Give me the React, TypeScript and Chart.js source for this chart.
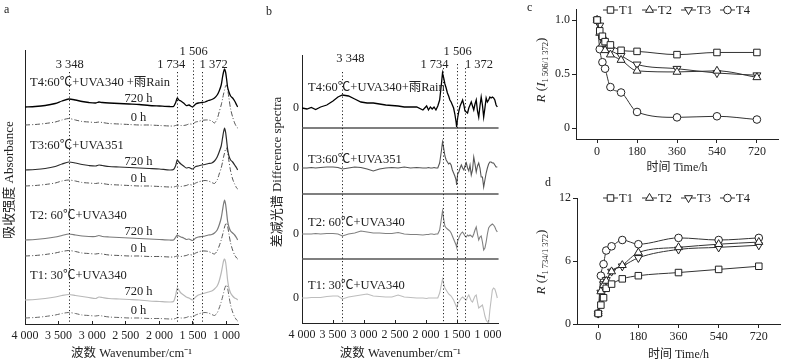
import React, { useEffect, useRef } from 'react';
import { Chart, registerables } from 'chart.js';

Chart.register(...registerables);

const FONT = "'Liberation Serif', 'Noto Sans CJK SC', serif";
Chart.defaults.font.family = FONT;
Chart.defaults.color = '#222';

/* ================= DATA ================= */

/* Panel a: absorbance spectra (relative absorbance, arbitrary units) */
const waveA = [4000, 3850, 3700, 3550, 3450, 3348, 3250, 3150, 3050, 2950, 2900, 2850, 2750, 2600, 2450, 2300, 2150, 2000, 1850, 1790, 1760, 1734, 1710, 1680, 1640, 1600, 1560, 1506, 1460, 1420, 1372, 1320, 1270, 1220, 1180, 1140, 1110, 1080, 1060, 1045, 1030, 1015, 1000, 985, 965, 940, 910, 880, 850, 835];
const aT4_720h = [0, 0.5, 1.5, 3.5, 6, 8, 7, 5.5, 4.5, 4, 5, 4.5, 4, 3.5, 3, 2.5, 1.5, 1, 0.5, 0.5, 4, 9, 7, 6, 4, 1.5, 2, 0, 3, 4, 4.5, 5, 6.5, 7.5, 9, 12, 16, 22, 30, 35, 38, 35, 28, 20, 15, 11, 9, 6, 2, 0];
const aT4_0h = [0, 0.5, 1.5, 3, 5, 6.5, 5, 3.5, 3, 2.5, 3, 2.5, 1.5, 1, 0.5, 0, 0, -0.5, -1, -1, -0.5, 0, 0, -0.5, -0.5, 0, 1, 1, 3, 3.5, 4.5, 5, 5, 4, 2, 6, 13, 20, 26, 31, 35, 39, 40, 36, 27, 16, 8, 2, -2, -3];
const aT3_720h = [0, 0.5, 1.5, 3.5, 6, 8, 7, 5.5, 4.5, 4, 5, 4.5, 3.5, 3, 2.5, 2, 1.5, 1, 0, 0.5, 4, 10, 8, 6, 4, 2, 2.5, 1, 3.5, 4, 5, 5.5, 6.5, 7, 9, 13, 18, 24, 32, 38, 42, 38, 30, 21, 14, 10, 8, 5, 2, 0];
const aT3_0h = [0, 0.5, 1.5, 3, 5, 6, 5, 3.5, 3, 2.5, 3, 2.5, 1.5, 1, 0.5, 0, 0, -0.5, -1, -1, -0.5, 0, 0, -0.5, 0, 0.5, 1.5, 1, 3, 4, 5, 5.5, 5, 3.5, 2.5, 6, 12, 18, 24, 29, 33, 37, 38, 34, 25, 15, 7, 2, -2, -3];
const aT2_720h = [0, 0.5, 1.5, 3, 4.5, 6, 5, 4, 3.5, 3.5, 4.5, 3.5, 3, 2.5, 2, 1.5, 1, 0.5, 0, 0, 2.5, 5, 4, 3, 2, 0.5, 1, -0.5, 2, 3, 3.5, 4, 5, 5.5, 7, 10, 15, 22, 30, 36, 40, 36, 28, 19, 13, 9, 7, 5, 2, 0];
const aT2_0h = [0, 0.5, 1.5, 3, 4.5, 5.5, 4.5, 3, 2.5, 2, 2.5, 2, 1, 0.5, 0, 0, -0.5, -0.5, -1, -1, -0.5, 0, 0, -0.5, 0, 0.5, 1.5, 1, 3, 4, 5, 5, 4.5, 3, 2, 5, 10, 16, 21, 25, 29, 32, 33, 30, 22, 13, 6, 1, -2, -3];
const aT1_720h = [0, 0.5, 1.5, 3, 4.5, 5.5, 4.5, 3.5, 2.5, 1.5, 3, 2.5, 1.5, 1, 0.5, 0, -1, -1.5, -2, -1.5, 4, 12, 10, 7, 5, 3, 2, 0, 3, 5, 6, 7, 8, 9, 11, 14, 19, 27, 34, 39, 41, 38, 30, 20, 12, 7, 4, 2, 1, 0];
const aT1_0h = [0, 0.5, 1.5, 3, 4.5, 5.5, 4.5, 3, 2.5, 2, 2.5, 2, 1, 0.5, 0, 0, -0.5, -0.5, -1, -1, -0.5, 0.5, 0.5, 0, 0, 0.5, 1.5, 1, 3, 4, 5, 5.5, 5, 3.5, 2.5, 5, 10, 16, 21, 25, 29, 32, 33, 30, 22, 13, 6, 1, -2, -3];

/* Panel b: difference spectra */
const waveB = [4000, 3920, 3850, 3780, 3700, 3600, 3500, 3420, 3348, 3250, 3150, 3050, 2950, 2850, 2750, 2650, 2550, 2450, 2350, 2250, 2150, 2050, 1990, 1960, 1930, 1900, 1870, 1840, 1810, 1780, 1750, 1734, 1715, 1695, 1675, 1655, 1635, 1615, 1595, 1575, 1555, 1535, 1515, 1506, 1490, 1470, 1450, 1430, 1410, 1390, 1372, 1350, 1330, 1310, 1290, 1270, 1250, 1230, 1210, 1190, 1170, 1150, 1130, 1110, 1090, 1070, 1050, 1030, 1010, 990, 970, 950, 930, 910, 890, 870, 850];
const bT4 = [0, -1, 0.5, -1.5, 1, 3, 7, 11, 13, 12, 9, 6, 5, 5, 4, 3, 2.5, 2, 1, 1, 1, -2, 2, -2, 1, -1, 1, -2, 2, 8, 25, 35, 30, 24, 20, 15, 12, 8, 6, 3, 0, -6, -14, -19, -10, -3, 2, 5, 8, 3, -3, -4, -5, 0, 3, 6, 2, -2, 4, 8, -3, -9, 2, 11, 3, -9, 0, 10, 6, 8, 11, 10, 11, 10, 8, 3, 1];
const bT3 = [0, 0, 0.5, 0, 0.5, 1, 1, 0.5, -1, 0, 1, 0.5, -1, -3, -1, 0, 0.5, 0, 1, 0, 0.5, 0, 0, 0.5, 0, 0, 0.5, 0, 0, 5, 18, 26, 20, 12, 8, 6, 4, 5, 3, -2, -5, -8, -12, -17, -6, -4, 0, 3, 0, -2, 2, 5, 0, -3, 3, -7, -2, 11, 4, -4, 2, 5, 0, -9, -9, -19, -12, -5, 0, 4, 6, 6, 5, 5, 3, 1, 1];
const bT2 = [0, 0, 0, 0.5, 0, 0.5, 0.5, 0, -2, 0, 1, 3, 2, 1, 1, 0.5, 0.5, 1.5, 0, -0.5, -0.5, -1, -0.5, -0.5, 0, 0, -0.5, 0, 0, 4, 16, 23, 15, 8, 6, 5, 4, 3, 1, -2, -5, -8, -11, -13, -7, -4, -1, 1, 2, 0, -2, -3, -1, -2, -1, -2, -3, 0, 4, 7, 0, -6, -3, -2, -8, -16, -14, -8, 0, 6, 8, 9, 10, 9, 7, 4, 2];
const bT1 = [0, 0, 0.5, 0.5, 0.5, 1.5, 2, 2, -1, 1, 2, 3, 4, 2, 1.5, 1, 1, 3, 1, 0.5, 0, 0, -0.5, 0, 0, 0, 0, 0, 0, 5, 14, 19, 14, 10, 8, 6, 4, 3, 2, 0, -2, -5, -8, -9, -6, -4, -2, 0, 1, 0, -1, -2, 1, 3, 0, -3, -4, -1, 2, 3, -4, -10, -9, -8, -7, -12, -18, -22, -24, -25, -12, -2, 8, 10, 9, 5, 0];

const markWaves = [3348, 1734, 1506, 1372];
const markLabels = ['3 348', '1 734', '1 506', '1 372'];
const waveTicks = [4000, 3500, 3000, 2500, 2000, 1500, 1000];
const conditionsA = ['T4:60℃+UVA340 +雨Rain', 'T3:60℃+UVA351', 'T2: 60℃+UVA340', 'T1: 30℃+UVA340'];
const conditionsB = ['T4:60℃+UVA340+雨Rain', 'T3:60℃+UVA351', 'T2: 60℃+UVA340', 'T1: 30℃+UVA340'];
const timeLabels = ['720 h', '0 h'];

/* Panels c, d: band ratios vs. time */
const seriesNames = ['T1', 'T2', 'T3', 'T4'];
const timesH = [0, 12, 24, 36, 60, 108, 180, 360, 540, 720];
const cT1 = [1.00, 0.90, 0.85, 0.80, 0.77, 0.72, 0.71, 0.68, 0.70, 0.70];
const cT2 = [1.00, 0.88, 0.78, 0.72, 0.68, 0.63, 0.53, 0.52, 0.53, 0.47];
const cT3 = [1.00, 0.95, 0.82, 0.76, 0.72, 0.67, 0.59, 0.55, 0.51, 0.49];
const cT4 = [1.00, 0.73, 0.61, 0.55, 0.38, 0.33, 0.15, 0.10, 0.11, 0.08];
const dT1 = [1.0, 1.8, 2.5, 3.4, 3.8, 4.3, 4.6, 4.9, 5.2, 5.5];
const dT2 = [1.0, 3.1, 3.7, 4.1, 5.0, 5.6, 6.8, 7.3, 7.6, 7.8];
const dT3 = [1.0, 3.0, 3.8, 4.2, 5.0, 5.5, 6.3, 7.1, 7.3, 7.5];
const dT4 = [1.0, 4.6, 5.7, 7.0, 7.4, 8.0, 7.6, 8.2, 8.0, 8.2];
const timeTicks = [0, 180, 360, 540, 720];
const cYTicks = [0, 0.5, 1.0];
const cYLabels = ['0', '0.5', '1.0'];
const dYTicks = [0, 6, 12];
const dYLabels = ['0', '6', '12'];

/* ================= LAYOUT / STYLE ================= */

const A = {
  // [720 h offset, 0 h offset] for T4, T3, T2, T1 (stacking offsets in y units)
  offsets: [[217, 199], [154, 138], [84, 68], [24, 6]],
  markTop: [72, 72, 60, 72],
  markDx: [1, -6, 1, 12],
  markY: [65, 65, 52, 65],
};
const B = {
  zero: [215, 155, 89, 25],
  seps: [195, 129, 64],
  labelDy: [20, 8, 11, 12],
  markTop: [72, 68, 64, 68],
  markDx: [8, -8, 1, 14],
  markY: [59, 65, 52, 65],
};
const aStyles = [
  ['#000', '#555'], ['#2a2a2a', '#555'], ['#7a7a7a', '#555'], ['#b8b8b8', '#666'],
];
const bColors = ['#000', '#555', '#808080', '#bdbdbd'];
const markers = [
  { style: 'rect', rot: 0, r: 4.6 },
  { style: 'triangle', rot: 0, r: 4.6 },
  { style: 'triangle', rot: 180, r: 4.6 },
  { style: 'circle', rot: 0, r: 3.8 },
];
const DASHDOT = [5, 2, 1, 2];

/* ================= HELPERS ================= */

function fmtWave(v: number) {
  const s = String(Math.round(v));
  return s.length > 3 ? s.slice(0, -3) + ' ' + s.slice(-3) : s;
}

function txt(ctx: any, text: string, x: number, y: number, size: number, align: any = 'left', style = '') {
  ctx.font = `${style} ${size}px ${FONT}`.trim();
  ctx.fillStyle = '#222';
  ctx.textAlign = align;
  ctx.textBaseline = 'middle';
  ctx.fillText(text, x, y);
}

function rotText(ctx: any, text: string, x: number, y: number, size: number) {
  ctx.save();
  ctx.translate(x, y);
  ctx.rotate(-Math.PI / 2);
  txt(ctx, text, 0, 0, size, 'center');
  ctx.restore();
}

function ratioTitle(ctx: any, sub: string, x: number, y: number) {
  const parts = [
    { t: 'R', f: `italic 13px ${FONT}`, dy: 0 },
    { t: ' (', f: `13px ${FONT}`, dy: 0 },
    { t: 'I', f: `italic 13px ${FONT}`, dy: 0 },
    { t: sub, f: `8.5px ${FONT}`, dy: 3.5 },
    { t: ')', f: `13px ${FONT}`, dy: 0 },
  ];
  ctx.save();
  ctx.translate(x, y);
  ctx.rotate(-Math.PI / 2);
  ctx.fillStyle = '#222';
  ctx.textBaseline = 'middle';
  ctx.textAlign = 'left';
  let total = 0;
  parts.forEach(p => { ctx.font = p.f; total += ctx.measureText(p.t).width; });
  let cx = -total / 2;
  parts.forEach(p => { ctx.font = p.f; ctx.fillText(p.t, cx, p.dy); cx += ctx.measureText(p.t).width; });
  ctx.restore();
}

function drawMarker(ctx: any, m: any, x: number, y: number) {
  const r = m.r;
  ctx.beginPath();
  if (m.style === 'rect') {
    const s = r * Math.SQRT1_2;
    ctx.rect(x - s, y - s, 2 * s, 2 * s);
  } else if (m.style === 'circle') {
    ctx.arc(x, y, r, 0, Math.PI * 2);
  } else {
    let rad = (m.rot * Math.PI) / 180;
    for (let k = 0; k < 3; k++) {
      const px = x + Math.sin(rad) * r;
      const py = y - Math.cos(rad) * r;
      if (k === 0) ctx.moveTo(px, py); else ctx.lineTo(px, py);
      rad += (2 * Math.PI) / 3;
    }
    ctx.closePath();
  }
  ctx.fillStyle = '#fff';
  ctx.fill();
  ctx.strokeStyle = '#222';
  ctx.lineWidth = 1;
  ctx.stroke();
}

function waveAxis(min: number, h: number) {
  return {
    type: 'linear',
    reverse: true,
    min,
    max: 4000,
    afterBuildTicks: (s: any) => { s.ticks = waveTicks.map(v => ({ value: v })); },
    afterFit: (s: any) => { s.height = h; },
    ticks: { callback: (v: any) => fmtWave(v), font: { size: 12 }, color: '#222', padding: 8, maxRotation: 0, autoSkip: false },
    grid: { display: true, drawOnChartArea: false, drawTicks: true, tickLength: -3, color: '#222' },
    border: { display: true, color: '#222' },
    title: { display: true, text: '波数 Wavenumber/cm⁻¹', font: { size: 12.5 }, color: '#222', padding: { top: 0, bottom: 1 } },
  };
}

function dottedMarks(ctx: any, chart: any, tops: number[], dx: number[], ys: number[]) {
  const x = chart.scales.x;
  ctx.save();
  ctx.setLineDash([1.2, 2.3]);
  ctx.strokeStyle = '#222';
  ctx.lineWidth = 1;
  markWaves.forEach((w, i) => {
    const px = Math.round(x.getPixelForValue(w)) + 0.5;
    ctx.beginPath();
    ctx.moveTo(px, tops[i]);
    ctx.lineTo(px, chart.chartArea.bottom);
    ctx.stroke();
  });
  ctx.setLineDash([]);
  markWaves.forEach((w, i) => {
    const px = x.getPixelForValue(w);
    txt(ctx, markLabels[i], px + dx[i], ys[i], 12.5, 'center');
  });
  ctx.restore();
}

/* ================= PANEL CONFIGS ================= */

const panelAPlugin = {
  id: 'panelA',
  afterDraw(chart: any) {
    const { ctx, chartArea, scales } = chart;
    const x = scales.x, y = scales.y;
    dottedMarks(ctx, chart, A.markTop, A.markDx, A.markY);
    ctx.save();
    conditionsA.forEach((label, k) => {
      const [o720, o0] = A.offsets[k];
      txt(ctx, label, chartArea.left + 5, y.getPixelForValue(o720 + 24), 12.5);
      txt(ctx, timeLabels[0], x.getPixelForValue(2310), y.getPixelForValue(o720 + 8.5), 12.5, 'center');
      txt(ctx, timeLabels[1], x.getPixelForValue(2310), y.getPixelForValue(o0 + 7.5), 12.5, 'center');
    });
    txt(ctx, 'a', 4, 10, 12);
    rotText(ctx, '吸收强度 Absorbance', 10, 180, 13);
    ctx.restore();
  },
};

function configA() {
  const series = [aT4_720h, aT4_0h, aT3_720h, aT3_0h, aT2_720h, aT2_0h, aT1_720h, aT1_0h];
  return {
    type: 'line',
    data: {
      datasets: series.map((vals, i) => {
        const k = Math.floor(i / 2), is0 = i % 2 === 1;
        const off = A.offsets[k][is0 ? 1 : 0];
        return {
          data: waveA.map((w, j) => ({ x: w, y: vals[j] + off })),
          borderColor: aStyles[k][is0 ? 1 : 0],
          borderWidth: is0 ? 1 : (k === 0 ? 1.3 : 1.2),
          borderDash: is0 ? DASHDOT : [],
          pointRadius: 0,
          tension: 0.25,
          fill: false,
        };
      }),
    },
    options: {
      responsive: false, animation: false, events: [],
      layout: { padding: { left: 0, top: 50, right: 12, bottom: 0 } },
      plugins: { legend: { display: false }, tooltip: { enabled: false } },
      scales: {
        x: waveAxis(830, 38),
        y: {
          type: 'linear', min: 0, max: 274,
          afterFit: (s: any) => { s.width = 25; },
          ticks: { display: false },
          grid: { display: false, drawTicks: false },
          border: { display: true, color: '#222' },
        },
      },
    },
    plugins: [panelAPlugin],
  };
}

const panelBPlugin = {
  id: 'panelB',
  afterDraw(chart: any) {
    const { ctx, chartArea, scales } = chart;
    const y = scales.y;
    ctx.save();
    ctx.strokeStyle = '#555';
    ctx.lineWidth = 1.6;
    B.seps.forEach(v => {
      const py = Math.round(y.getPixelForValue(v));
      ctx.beginPath();
      ctx.moveTo(chartArea.left, py);
      ctx.lineTo(chartArea.right, py);
      ctx.stroke();
    });
    ctx.restore();
    dottedMarks(ctx, chart, B.markTop, B.markDx, B.markY);
    ctx.save();
    conditionsB.forEach((label, k) => {
      txt(ctx, label, chartArea.left + 6, y.getPixelForValue(B.zero[k] + B.labelDy[k]), 12.5);
    });
    txt(ctx, 'b', 16, 12, 12);
    rotText(ctx, '差减光谱 Difference spectra', 28, 172, 13);
    ctx.restore();
  },
};

function configB() {
  const series = [bT4, bT3, bT2, bT1];
  return {
    type: 'line',
    data: {
      datasets: series.map((vals, k) => ({
        data: waveB.map((w, j) => ({ x: w, y: vals[j] + B.zero[k] })),
        borderColor: bColors[k],
        borderWidth: k === 0 ? 1.3 : 1.1,
        pointRadius: 0,
        tension: 0,
        fill: false,
      })),
    },
    options: {
      responsive: false, animation: false, events: [],
      layout: { padding: { left: 20, top: 55, right: 9, bottom: 0 } },
      plugins: { legend: { display: false }, tooltip: { enabled: false } },
      scales: {
        x: waveAxis(830, 39),
        y: {
          type: 'linear', min: 0, max: 268,
          afterBuildTicks: (s: any) => { s.ticks = B.zero.map(v => ({ value: v })); },
          afterFit: (s: any) => { s.width = 32; },
          ticks: { callback: () => '0', font: { size: 12 }, color: '#222', padding: 3 },
          grid: { display: false, drawTicks: false },
          border: { display: true, color: '#222' },
        },
      },
    },
    plugins: [panelBPlugin],
  };
}

function ratioPlugin(id: string, letter: string, letterX: number, legendY: number, sub: string, titleY: number) {
  return {
    id,
    afterDraw(chart: any) {
      const ctx = chart.ctx;
      ctx.save();
      seriesNames.forEach((name, i) => {
        const x0 = 93 + i * 39;
        ctx.strokeStyle = '#333';
        ctx.lineWidth = 1;
        ctx.beginPath();
        ctx.moveTo(x0, legendY);
        ctx.lineTo(x0 + 15, legendY);
        ctx.stroke();
        drawMarker(ctx, markers[i], x0 + 7.5, legendY);
        txt(ctx, name, x0 + 16, legendY + 0.5, 12.5);
      });
      txt(ctx, letter, letterX, 8, 12);
      ratioTitle(ctx, sub, 32, titleY);
      ctx.restore();
    },
  };
}

function ratioConfig(vals: number[][], yMin: number, yMax: number, yTicks: number[], yLabels: string[], pad: any, yW: number, xH: number, plugin: any) {
  return {
    type: 'line',
    data: {
      datasets: vals.map((v, i) => ({
        label: seriesNames[i],
        data: timesH.map((t, j) => ({ x: t, y: v[j] })),
        borderColor: '#333',
        borderWidth: 1,
        cubicInterpolationMode: 'monotone',
        pointStyle: markers[i].style,
        pointRotation: markers[i].rot,
        pointRadius: markers[i].r,
        pointBackgroundColor: '#fff',
        pointBorderColor: '#222',
        pointBorderWidth: 1,
        fill: false,
        clip: false,
      })),
    },
    options: {
      responsive: false, animation: false, events: [],
      layout: { padding: pad },
      plugins: { legend: { display: false }, tooltip: { enabled: false } },
      scales: {
        x: {
          type: 'linear', min: -95, max: 815,
          afterBuildTicks: (s: any) => { s.ticks = timeTicks.map(v => ({ value: v })); },
          afterFit: (s: any) => { s.height = xH; },
          ticks: { font: { size: 12 }, color: '#222', padding: 2, maxRotation: 0, autoSkip: false, callback: (v: any) => String(v) },
          grid: { drawOnChartArea: false, tickLength: 4, color: '#222' },
          border: { color: '#222' },
          title: { display: true, text: '时间 Time/h', font: { size: 12 }, color: '#222', padding: { top: 0, bottom: 0 } },
        },
        y: {
          type: 'linear', min: yMin, max: yMax,
          afterBuildTicks: (s: any) => { s.ticks = yTicks.map(v => ({ value: v })); },
          afterFit: (s: any) => { s.width = yW; },
          ticks: { font: { size: 12 }, color: '#222', padding: 2, callback: (_v: any, i: number) => yLabels[i] },
          grid: { drawOnChartArea: false, tickLength: 4, color: '#222' },
          border: { color: '#222' },
        },
      },
    },
    plugins: [plugin],
  };
}

function configC() {
  return ratioConfig([cT1, cT2, cT3, cT4], -0.1, 1.1, cYTicks, cYLabels,
    { left: 0, top: 9, right: 22, bottom: 0 }, 66, 36,
    ratioPlugin('panelC', 'c', 17, 10, '1 506/1 372', 70));
}

function configD() {
  return ratioConfig([dT1, dT2, dT3, dT4], 0, 12, dYTicks, dYLabels,
    { left: 0, top: 23, right: 20, bottom: 0 }, 67, 38,
    ratioPlugin('panelD', 'd', 35, 23, '1 734/1 372', 87));
}

/* ================= COMPONENTS ================= */

function ChartBox({ left, top, width, height, make }: any) {
  const ref = useRef<HTMLCanvasElement | null>(null);
  useEffect(() => {
    const chart = new Chart(ref.current as any, make() as any);
    return () => chart.destroy();
  }, []);
  return (
    <canvas
      ref={ref}
      width={width}
      height={height}
      style={{ position: 'absolute', left, top, width, height }}
    />
  );
}

export default function App() {
  return (
    <div style={{ position: 'fixed', left: 0, top: 0, width: 800, height: 362, background: '#fff', overflow: 'hidden' }}>
      <ChartBox left={0} top={0} width={250} height={362} make={configA} />
      <ChartBox left={250} top={0} width={260} height={362} make={configB} />
      <ChartBox left={510} top={0} width={290} height={175} make={configC} />
      <ChartBox left={510} top={175} width={290} height={187} make={configD} />
    </div>
  );
}
